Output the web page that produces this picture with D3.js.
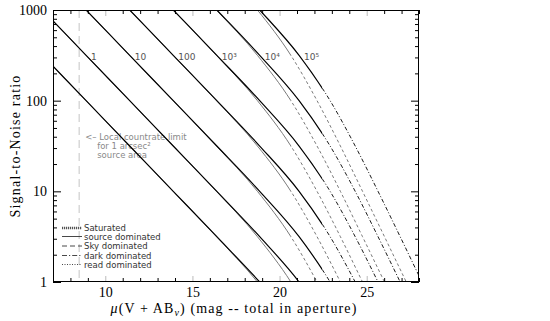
<!DOCTYPE html>
<html>
<head>
<meta charset="utf-8">
<script src="https://cdn.jsdelivr.net/npm/d3@7"></script>
<style>
  body { margin: 0; background: #fff; }
  text { font-family: "Liberation Serif", "DejaVu Serif", serif; }
  .small { font-family: "DejaVu Sans", sans-serif; }
</style>
</head>
<body>
<svg id="chart" width="550" height="321"></svg>
<script>

// exposure times (s) and their labels
var expTimes = [0.1, 1, 10, 100, 1000, 10000, 100000];
var expLabels = ["", "1", "10", "100", "10³", "10⁴", "10⁵"];

// magnitude grid, one per detector setup
var magDark = [3.9, 6.4, 8.9, 11.4, 13.9, 16.4, 18.86, 21.12, 22.9, 24.34, 25.65, 26.92, 28.17, 29.42];
var magSky  = [3.9, 6.4, 8.9, 11.4, 13.9, 16.38, 18.73, 20.65, 22.15, 23.49, 24.76, 26.02, 27.27, 28.52];

// S/N on that grid, one row per exposure time
var snr01  = [1000, 316, 100, 31.6, 10, 3.16, 1, 0.32, 0.1, 0.032, 0.01, 0.0032, 0.001, 0.00032];
var snr1   = [3160, 1000, 316, 100, 31.6, 10, 3.16, 1, 0.32, 0.1, 0.032, 0.01, 0.0032, 0.001];
var snr10  = [10000, 3160, 1000, 316, 100, 31.6, 10, 3.16, 1, 0.32, 0.1, 0.032, 0.01, 0.0032];
var snr100 = [31600, 10000, 3160, 1000, 316, 100, 31.6, 10, 3.16, 1, 0.32, 0.1, 0.032, 0.01];
var snr1e3 = [1e5, 31600, 10000, 3160, 1000, 316, 100, 31.6, 10, 3.16, 1, 0.32, 0.1, 0.032];
var snr1e4 = [316000, 1e5, 31600, 10000, 3160, 1000, 316, 100, 31.6, 10, 3.16, 1, 0.32, 0.1];
var snr1e5 = [1e6, 316000, 1e5, 31600, 10000, 3160, 1000, 316, 100, 31.6, 10, 3.16, 1, 0.32];
var snrRows = [snr01, snr1, snr10, snr100, snr1e3, snr1e4, snr1e5];

// magnitude where background takes over from the source
var setups = ["sky", "dark"];
var setupMags = [magSky, magDark];
var setupLimit = [20.65, 22.45];

var limitMag = 8.5;
var xMajor = [10, 15, 20, 25];
var yMajor = [1, 10, 100, 1000];

var legendNames = ["Saturated", "source dominated", "Sky dominated", "dark dominated", "read dominated"];

var svg = d3.select("#chart");
var pLeft = 53, pRight = 419, pTop = 10, pBottom = 282;

var x = d3.scaleLinear().domain([7, 28]).range([pLeft, pRight]);
var y = d3.scaleLog().domain([1, 1000]).range([pBottom, pTop]);

var defs = svg.append("defs");
defs.append("clipPath").attr("id", "plotClip")
  .append("rect").attr("x", pLeft).attr("y", pTop).attr("width", pRight - pLeft).attr("height", pBottom - pTop);

setups.forEach(function(s, i){
  defs.append("clipPath").attr("id", "src_" + s)
    .append("rect").attr("x", pLeft).attr("y", pTop)
    .attr("width", x(setupLimit[i]) - pLeft).attr("height", pBottom - pTop);
  defs.append("clipPath").attr("id", "bg_" + s)
    .append("rect").attr("x", x(setupLimit[i])).attr("y", pTop)
    .attr("width", pRight - x(setupLimit[i])).attr("height", pBottom - pTop);
});

// local countrate limit
svg.append("line")
  .attr("x1", x(limitMag)).attr("x2", x(limitMag))
  .attr("y1", pTop).attr("y2", pBottom)
  .attr("stroke", "#c4c4c4").attr("stroke-width", 1)
  .attr("stroke-dasharray", "8,5");

var note = svg.append("g").attr("fill", "#8a8a8a");
note.append("text").attr("class", "small").style("font-size", "8.5px").attr("x", x(limitMag) + 6).attr("y", 140).text("<– Local countrate limit");
note.append("text").attr("class", "small").style("font-size", "8.5px").attr("x", x(limitMag) + 18).attr("y", 149).text("for 1 arcsec²");
note.append("text").attr("class", "small").style("font-size", "8.5px").attr("x", x(limitMag) + 18).attr("y", 158).text("source area");

// curves
var plot = svg.append("g").attr("clip-path", "url(#plotClip)");
var styleOf = {
  sky:  {color: "#7a7a7a", width: 1, bgWidth: 1, dash: "3,2.5"},
  dark: {color: "#000", width: 1.2, bgWidth: 0.9, dash: "4,2,1,2"}
};

setups.forEach(function(s, i){
  var mags = setupMags[i];
  var line = d3.line()
    .x(function(d, k){ return x(mags[k]); })
    .y(function(d){ return y(d); })
    .curve(d3.curveMonotoneX);

  var gSrc = plot.append("g").attr("clip-path", "url(#src_" + s + ")");
  var gBg = plot.append("g").attr("clip-path", "url(#bg_" + s + ")");

  snrRows.forEach(function(row){
    gSrc.append("path").attr("d", line(row))
      .attr("fill", "none").attr("stroke", styleOf[s].color)
      .attr("stroke-width", styleOf[s].width);
    gBg.append("path").attr("d", line(row))
      .attr("fill", "none").attr("stroke", styleOf[s].color)
      .attr("stroke-width", styleOf[s].bgWidth)
      .attr("stroke-dasharray", styleOf[s].dash);
  });
});

// exposure labels, next to the dark curve at S/N ~ 316
snrRows.forEach(function(row, i){
  if (!expLabels[i]) return;
  var k = d3.leastIndex(row, function(v){ return Math.abs(Math.log10(v) - 2.5); });
  svg.append("text").attr("class", "small")
    .attr("x", x(magDark[k]) + 5).attr("y", y(row[k]) + 5)
    .attr("fill", "#555").style("font-size", "9px")
    .text(expLabels[i]);
});

// axes
var xMinor = d3.range(7, 29).filter(function(v){ return xMajor.indexOf(v) < 0; });
var yMinor = [];
[1, 10, 100].forEach(function(d){
  d3.range(2, 10).forEach(function(k){ yMinor.push(d * k); });
});

function addAxis(axis, tr, color){
  var g = svg.append("g").attr("transform", tr).call(axis);
  g.select(".domain").remove();
  g.selectAll(".tick line").attr("stroke", color);
  return g;
}

addAxis(d3.axisBottom(x).tickValues(xMinor).tickSize(-4).tickFormat(""), "translate(0," + pBottom + ")", "#000");
addAxis(d3.axisTop(x).tickValues(xMinor).tickSize(-4).tickFormat(""), "translate(0," + pTop + ")", "#000");
addAxis(d3.axisTop(x).tickValues(xMajor).tickSize(-6).tickFormat(""), "translate(0," + pTop + ")", "#bbb");
var xb = addAxis(d3.axisBottom(x).tickValues(xMajor).tickSize(-6).tickPadding(5).tickFormat(d3.format("d")), "translate(0," + pBottom + ")", "#bbb");
xb.selectAll("text").attr("fill", "#000").style("font-size", "14px")
  .style("font-family", "'Liberation Serif', serif");

addAxis(d3.axisLeft(y).tickValues(yMinor).tickSize(-4).tickFormat(""), "translate(" + pLeft + ",0)", "#000");
addAxis(d3.axisRight(y).tickValues(yMinor).tickSize(-4).tickFormat(""), "translate(" + pRight + ",0)", "#000");
addAxis(d3.axisRight(y).tickValues(yMajor).tickSize(-8).tickFormat(""), "translate(" + pRight + ",0)", "#000");
var yl = addAxis(d3.axisLeft(y).tickValues(yMajor).tickSize(-8).tickPadding(6).tickFormat(d3.format("d")), "translate(" + pLeft + ",0)", "#000");
yl.selectAll("text").attr("fill", "#000").style("font-size", "14px")
  .style("font-family", "'Liberation Serif', serif");

svg.append("rect")
  .attr("x", pLeft + 0.5).attr("y", pTop + 0.5)
  .attr("width", pRight - pLeft - 1).attr("height", pBottom - pTop - 1)
  .attr("fill", "none").attr("stroke", "#000").attr("stroke-width", 1);

// legend
var legendY = [228, 236.5, 246, 255.5, 264.5];
var legendDash = ["1.2,0.8", null, "5,3", "5,2,1.2,2", "1,1.5"];
var lg = svg.append("g");
legendNames.forEach(function(name, i){
  lg.append("line")
    .attr("x1", 62).attr("x2", 82)
    .attr("y1", legendY[i]).attr("y2", legendY[i])
    .attr("stroke", i === 0 ? "#555" : "#333")
    .attr("stroke-width", i === 0 ? 2.5 : 0.9)
    .attr("stroke-dasharray", legendDash[i]);
  lg.append("text").attr("class", "small")
    .attr("x", 84).attr("y", legendY[i] + 3)
    .attr("fill", "#333").style("font-size", "8.5px")
    .text(name);
});

// axis titles
var xt = svg.append("text")
  .attr("x", 234).attr("y", 313)
  .attr("text-anchor", "middle")
  .style("font-size", "14px").style("letter-spacing", "1.1px");
xt.append("tspan").style("font-style", "italic").text("μ");
xt.append("tspan").text("(V + AB");
xt.append("tspan").attr("dy", 3).style("font-size", "10px").style("font-style", "italic").text("ν");
xt.append("tspan").attr("dy", -3).text(") (mag -- total in aperture)");

svg.append("text")
  .attr("transform", "translate(20,146) rotate(-90)")
  .attr("text-anchor", "middle")
  .style("font-size", "14px").style("letter-spacing", "1.2px")
  .text("Signal-to-Noise ratio");

</script>
</body>
</html>
